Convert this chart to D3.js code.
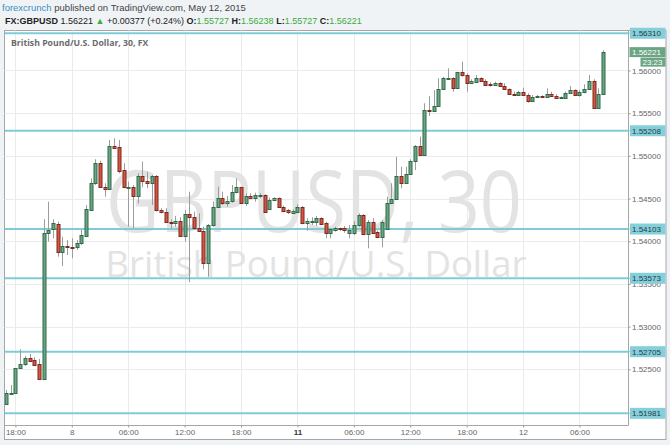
<!DOCTYPE html>
<html><head><meta charset="utf-8">
<script src="https://cdn.jsdelivr.net/npm/d3@7"></script>
<style>
html,body{margin:0;padding:0;background:#f0f3f6;}
svg{display:block;}
</style></head>
<body><svg id="c" width="670" height="445"></svg>
<script>
// GBPUSD 30-minute candles, 7 May 17:00 -> 12 May 08:30 (bar index = category)
const candleOpen = [
1.52093,1.52216,1.52226,1.52512,1.52562,1.52629,1.52609,1.52558,1.52390,1.54100,
1.54143,1.54205,1.53877,1.53941,1.53936,1.53929,1.53976,1.54065,1.54366,1.54679,
1.54913,1.54639,1.54615,1.55119,1.55107,1.54834,1.54627,1.54639,1.54530,1.54768,
1.54706,1.54679,1.54764,1.54366,1.54346,1.54229,1.54210,1.54240,1.54065,1.54319,
1.54280,1.54151,1.54123,1.53742,1.54190,1.54405,1.54503,1.54451,1.54475,1.54573,
1.54632,1.54444,1.54533,1.54503,1.54542,1.54542,1.54378,1.54479,1.54506,1.54405,
1.54366,1.54334,1.54346,1.54405,1.54210,1.54229,1.54229,1.54269,1.54210,1.54093,
1.54132,1.54151,1.54151,1.54100,1.54093,1.54190,1.54307,1.54085,1.54229,1.54112,
1.54046,1.54143,1.54444,1.54491,1.54764,1.54686,1.54784,1.54940,1.55116,1.55010,
1.55534,1.55526,1.55584,1.55780,1.55904,1.55909,1.55799,1.55979,1.55944,1.55857,
1.55869,1.55909,1.55881,1.55838,1.55830,1.55857,1.55822,1.55780,1.55725,1.55710,
1.55745,1.55713,1.55646,1.55693,1.55697,1.55693,1.55725,1.55705,1.55681,1.55681,
1.55740,1.55768,1.55710,1.55748,1.55780,1.55881,1.55557,1.55727];
const candleHigh = [
1.52257,1.52316,1.52515,1.52734,1.52656,1.52679,1.52640,1.52621,1.54257,1.54463,
1.54257,1.54229,1.54053,1.54014,1.54034,1.54014,1.54132,1.54424,1.54737,1.54960,
1.54943,1.54679,1.55186,1.55206,1.55186,1.54913,1.54697,1.54659,1.54796,1.54932,
1.54815,1.54776,1.54776,1.54386,1.54386,1.54257,1.54295,1.54280,1.54366,1.54580,
1.54346,1.54327,1.54170,1.54202,1.54463,1.54639,1.54580,1.54530,1.54659,1.54737,
1.54639,1.54561,1.54561,1.54569,1.54565,1.54550,1.54510,1.54514,1.54514,1.54416,
1.54378,1.54374,1.54433,1.54413,1.54269,1.54280,1.54295,1.54280,1.54229,1.54151,
1.54170,1.54159,1.54178,1.54190,1.54237,1.54327,1.54319,1.54249,1.54269,1.54123,
1.54249,1.54522,1.54679,1.54990,1.54873,1.54873,1.54960,1.55127,1.55225,1.55616,
1.55701,1.55771,1.55909,1.55927,1.56026,1.55920,1.55986,1.56103,1.55967,1.55897,
1.55947,1.55920,1.55897,1.55862,1.55869,1.55865,1.55850,1.55791,1.55752,1.55760,
1.55799,1.55733,1.55713,1.55713,1.55709,1.55791,1.55752,1.55722,1.55697,1.55752,
1.55818,1.55780,1.55771,1.55838,1.55947,1.55897,1.55791,1.56238];
const candleLow = [
1.52081,1.52210,1.52222,1.52509,1.52539,1.52597,1.52539,1.52386,1.52386,1.53995,
1.54034,1.53819,1.53710,1.53839,1.53800,1.53897,1.53956,1.54053,1.54354,1.54659,
1.54632,1.54522,1.54600,1.55089,1.54796,1.54620,1.54170,1.54151,1.54444,1.54632,
1.54620,1.54424,1.54346,1.54327,1.54217,1.54151,1.54170,1.54053,1.53995,1.53522,
1.54132,1.54112,1.53671,1.53584,1.54170,1.54397,1.54424,1.54405,1.54451,1.54561,
1.54436,1.54413,1.54491,1.54463,1.54507,1.54339,1.54366,1.54471,1.54393,1.54339,
1.54319,1.54327,1.54327,1.54198,1.54123,1.54190,1.54178,1.54190,1.54034,1.54034,
1.54112,1.54120,1.54100,1.54034,1.54073,1.54170,1.54073,1.53917,1.54085,1.54034,
1.53929,1.54132,1.54433,1.54483,1.54620,1.54671,1.54776,1.54834,1.54998,1.55002,
1.55467,1.55517,1.55576,1.55771,1.55889,1.55752,1.55791,1.55927,1.55752,1.55850,
1.55857,1.55869,1.55818,1.55810,1.55822,1.55810,1.55771,1.55713,1.55701,1.55701,
1.55705,1.55623,1.55635,1.55674,1.55681,1.55686,1.55693,1.55674,1.55674,1.55670,
1.55733,1.55701,1.55693,1.55733,1.55771,1.55549,1.55549,1.55727];
const candleClose = [
1.52219,1.52228,1.52512,1.52562,1.52629,1.52601,1.52554,1.52390,1.54096,1.54132,
1.54210,1.53877,1.53944,1.53929,1.53921,1.53976,1.54070,1.54378,1.54679,1.54913,
1.54639,1.54612,1.55119,1.55096,1.54826,1.54632,1.54639,1.54530,1.54768,1.54706,
1.54679,1.54764,1.54366,1.54346,1.54229,1.54210,1.54240,1.54065,1.54319,1.54280,
1.54151,1.54123,1.53742,1.54190,1.54405,1.54503,1.54451,1.54475,1.54573,1.54632,
1.54444,1.54533,1.54503,1.54542,1.54545,1.54346,1.54483,1.54506,1.54398,1.54358,
1.54339,1.54354,1.54405,1.54210,1.54237,1.54240,1.54269,1.54202,1.54093,1.54140,
1.54151,1.54143,1.54132,1.54132,1.54190,1.54307,1.54085,1.54229,1.54100,1.54046,
1.54229,1.54444,1.54491,1.54764,1.54686,1.54784,1.54940,1.55116,1.55010,1.55534,
1.55526,1.55584,1.55780,1.55909,1.55909,1.55799,1.55979,1.55944,1.55857,1.55881,
1.55909,1.55881,1.55830,1.55830,1.55857,1.55822,1.55780,1.55725,1.55710,1.55745,
1.55713,1.55646,1.55693,1.55697,1.55689,1.55722,1.55705,1.55681,1.55689,1.55740,
1.55768,1.55710,1.55748,1.55780,1.55881,1.55557,1.55727,1.56221];

// axis ticks
const priceTicks = [1.525, 1.530, 1.535, 1.540, 1.545, 1.550, 1.555, 1.560];
const timeTickIndex = [2, 14, 26, 38, 50, 62, 74, 86, 98, 110, 122];
const timeTickLabels = ["18:00","8","06:00","12:00","18:00","11","06:00","12:00","18:00","12","06:00"];
const boldTimeLabels = ["11"];

// user-drawn horizontal lines: level where drawn, and the price shown in their label
const hlineLevels = [1.56436, 1.55294, 1.54143, 1.53566, 1.52706, 1.51984];
const hlineLabels = ["1.56310","1.55208","1.54103","1.53573","1.52705","1.51981"];

// header info
const symbol = "FX:GBPUSD";
const change = "+0.00377";
const changePct = "(+0.24%)";
const countdown = "23:23";

const candles = candleOpen.map((o, i) => ({i, o, h: candleHigh[i], l: candleLow[i], c: candleClose[i]}));
const last = candles[candles.length - 1];

const svg = d3.select("#c");
const L = 4.5, R = 628.5, T = 30.5, B = 425.5;

const x = d3.scaleLinear().domain([-0.32, 132.43]).range([L, R]);
const y = d3.scaleLinear().domain([1.518415, 1.564685]).range([B, T]);

// background
svg.append("rect").attr("width", 670).attr("height", 445).attr("fill", "#f0f3f6");
svg.append("rect").attr("x", L).attr("y", T).attr("width", 661.5).attr("height", 409)
  .attr("fill", "#ffffff").attr("stroke", "#a6a6a6");

// grid
const grid = svg.append("g");
grid.selectAll(".vg").data(timeTickIndex).join("line")
  .attr("x1", d => Math.round(x(d)) + 0.5).attr("x2", d => Math.round(x(d)) + 0.5)
  .attr("y1", T).attr("y2", B).attr("stroke", "#ebebeb");
grid.selectAll(".hg").data(priceTicks).join("line")
  .attr("x1", L).attr("x2", R)
  .attr("y1", d => Math.round(y(d)) + 0.5).attr("y2", d => Math.round(y(d)) + 0.5)
  .attr("stroke", "#ebebeb");

// watermark
const wm = svg.append("g").attr("fill", "#e3e3e3").attr("font-family", "'Open Sans', sans-serif");
wm.append("text").attr("x", 314).attr("y", 232).attr("text-anchor", "middle")
  .attr("font-size", 86).attr("textLength", 416).attr("lengthAdjust", "spacingAndGlyphs")
  .text("GBPUSD, 30");
wm.append("text").attr("x", 316).attr("y", 277).attr("text-anchor", "middle")
  .attr("font-size", 37).attr("textLength", 421).attr("lengthAdjust", "spacingAndGlyphs")
  .text("British Pound/U.S. Dollar");

// title
svg.append("text").attr("x", 11).attr("y", 45.5)
  .attr("font-family", "'Open Sans', sans-serif").attr("font-size", 8.7).attr("font-weight", "bold")
  .attr("fill", "#6b6b6b").text("British Pound/U.S. Dollar, 30, FX");

// clip
svg.append("clipPath").attr("id", "plotclip").append("rect")
  .attr("x", L).attr("y", T).attr("width", R - L).attr("height", B - T);

// horizontal lines
svg.append("g").attr("clip-path", "url(#plotclip)")
  .selectAll("line").data(hlineLevels).join("line")
  .attr("x1", L).attr("x2", R)
  .attr("y1", d => y(d)).attr("y2", d => y(d))
  .attr("stroke", "#7fccd8").attr("stroke-width", 2);

// candles
const cg = svg.append("g").attr("clip-path", "url(#plotclip)");
const up = d => d.c >= d.o;
cg.selectAll(".wick").data(candles).join("line")
  .attr("x1", d => Math.round(x(d.i)) + 0.5).attr("x2", d => Math.round(x(d.i)) + 0.5)
  .attr("y1", d => y(d.h)).attr("y2", d => y(d.l))
  .attr("stroke", "#9c9c9c").attr("stroke-width", 1);
cg.selectAll(".body").data(candles).join("rect")
  .attr("x", d => Math.round(x(d.i)) - 1)
  .attr("width", 3)
  .attr("y", d => Math.round(y(Math.max(d.o, d.c))) + 0.5)
  .attr("height", d => Math.max(Math.round(y(Math.min(d.o, d.c))) - Math.round(y(Math.max(d.o, d.c))), 1))
  .attr("fill", d => up(d) ? "#6ba583" : "#d75442")
  .attr("stroke", d => up(d) ? "#2f6a49" : "#7a2a1f").attr("stroke-width", 1);

// frame lines
svg.append("line").attr("x1", R).attr("x2", R).attr("y1", T).attr("y2", B).attr("stroke", "#a6a6a6");
svg.append("line").attr("x1", L).attr("x2", R).attr("y1", B).attr("y2", B).attr("stroke", "#a6a6a6");

// price axis
const yAxis = d3.axisRight(y).tickValues(priceTicks).tickFormat(d3.format(".5f"))
  .tickSize(2).tickPadding(1.5);
const ya = svg.append("g").attr("transform", `translate(${R},0)`).call(yAxis);
ya.select(".domain").remove();
ya.selectAll(".tick line").attr("stroke", "#999");
ya.selectAll(".tick text").attr("font-family", "'Liberation Sans', Arial, sans-serif")
  .attr("font-size", 8).attr("fill", "#666");

// time axis
const xAxis = d3.axisBottom(x).tickValues(timeTickIndex)
  .tickFormat((d, k) => timeTickLabels[k]).tickSize(2).tickPadding(2);
const xa = svg.append("g").attr("transform", `translate(0,${B})`).call(xAxis);
xa.select(".domain").remove();
xa.selectAll(".tick line").attr("stroke", "#999");
xa.selectAll(".tick text").attr("font-family", "'Liberation Sans', Arial, sans-serif")
  .attr("font-size", 8)
  .attr("fill", (d, k) => boldTimeLabels.includes(timeTickLabels[k]) ? "#333" : "#666")
  .attr("font-weight", (d, k) => boldTimeLabels.includes(timeTickLabels[k]) ? "bold" : "normal");

// hline labels on price axis
const hl = svg.append("g").selectAll("g").data(hlineLevels).join("g")
  .attr("transform", d => `translate(${R},${y(d)})`);
hl.append("line").attr("x1", 0).attr("x2", 2).attr("stroke", "#7fccd8");
hl.append("rect").attr("x", 1.5).attr("y", -5.5).attr("width", 35.5).attr("height", 11)
  .attr("fill", "#85cfdb");
hl.append("text").attr("x", 3.5).attr("y", 3)
  .attr("font-family", "'Liberation Sans', Arial, sans-serif").attr("font-size", 8)
  .attr("fill", "#1f3d44").text((d, k) => hlineLabels[k]);

// last price label + countdown
const lp = svg.append("g").attr("transform", `translate(${R},${y(last.c)})`);
lp.append("rect").attr("x", 1).attr("y", -4.5).attr("width", 36).attr("height", 10).attr("fill", "#6ba583");
lp.append("text").attr("x", 3.5).attr("y", 3.5).attr("font-family", "'Liberation Sans', Arial, sans-serif")
  .attr("font-size", 8).attr("fill", "#fff").text(d3.format(".5f")(last.c));
lp.append("rect").attr("x", 12).attr("y", 6).attr("width", 25).attr("height", 9).attr("fill", "#6ba583");
lp.append("text").attr("x", 14).attr("y", 13.5).attr("font-family", "'Liberation Sans', Arial, sans-serif")
  .attr("font-size", 8).attr("fill", "#fff").text(countdown);

// header
const f5 = d3.format(".5f");
const hf = "'Liberation Sans', Arial, sans-serif";
const green = "#3cac3c";
const h1 = svg.append("text").attr("x", 2).attr("y", 10.5).attr("font-family", hf).attr("font-size", 9.5);
h1.append("tspan").attr("fill", "#3b8ec2").text("forexcrunch");
h1.append("tspan").attr("fill", "#444").text(" published on TradingView.com, May 12, 2015");

const h2 = svg.append("text").attr("x", 5).attr("y", 23.5).attr("font-family", hf).attr("font-size", 9)
  .attr("fill", "#222").attr("xml:space", "preserve");
const ts = (txt, col, bold) => h2.append("tspan").attr("fill", col)
  .attr("font-weight", bold ? "bold" : "normal").text(txt);
ts(symbol, "#222", true);
ts(" " + f5(last.c) + " ", "#222", false);
ts("▲", green, false);
ts(` ${change} ${changePct} `, "#222", false);
ts("O:", "#222", true); ts(f5(last.o) + " ", green, false);
ts("H:", "#222", true); ts(f5(last.h) + " ", green, false);
ts("L:", "#222", true); ts(f5(last.l) + " ", green, false);
ts("C:", "#222", true); ts(f5(last.c), green, false);
</script>
</body></html>
